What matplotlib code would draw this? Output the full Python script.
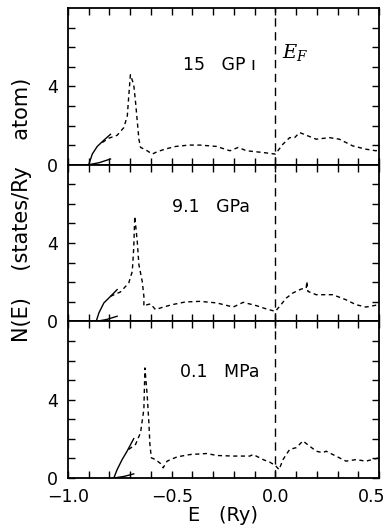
import numpy as np
import matplotlib
matplotlib.use("Agg")
from matplotlib import pyplot as plt
from matplotlib import transforms
from matplotlib.ticker import MultipleLocator, FixedLocator

plt.rcParams["font.family"] = ["DejaVu Sans"]

# panel labels, top to bottom
labels = ["15   GP ı", "9.1   GPa", "0.1   MPa"]
label_pos = [(-0.27, 5.1), (-0.31, 5.85), (-0.27, 5.4)]

# total DOS (dashed)
e_15 = [-0.835, -0.803, -0.763, -0.731, -0.714, -0.707, -0.699, -0.683, -0.674, -0.666,
        -0.658, -0.650, -0.634, -0.618, -0.594, -0.570, -0.530, -0.481, -0.417, -0.363,
        -0.283, -0.219, -0.179, -0.139, -0.059, 0.0, 0.037, 0.069, 0.093, 0.117, 0.157,
        0.197, 0.261, 0.309, 0.373, 0.437, 0.485, 0.5]
n_15 = [1.13, 1.35, 1.50, 1.89, 2.48, 3.50, 4.59, 4.09, 3.17, 2.23,
        1.30, 0.88, 0.80, 0.71, 0.54, 0.66, 0.80, 0.93, 1.00, 1.00,
        0.93, 0.71, 0.88, 0.71, 0.62, 0.54, 1.05, 1.38, 1.38, 1.64, 1.47,
        1.30, 1.38, 1.30, 0.96, 0.79, 0.71, 0.75]

e_91 = [-0.795, -0.747, -0.707, -0.690, -0.683, -0.678, -0.666, -0.658, -0.642, -0.634,
        -0.634, -0.618, -0.602, -0.578, -0.546, -0.498, -0.434, -0.363, -0.283, -0.203,
        -0.155, -0.091, -0.043, 0.0, 0.021, 0.053, 0.085, 0.125, 0.149, 0.152, 0.157,
        0.197, 0.277, 0.341, 0.389, 0.437, 0.5]
n_91 = [1.28, 1.50, 1.96, 2.55, 3.74, 5.36, 4.08, 2.89, 2.04, 1.28,
        0.77, 0.85, 0.89, 0.60, 0.71, 0.85, 0.99, 1.02, 0.94, 0.73,
        0.97, 0.80, 0.63, 0.51, 0.77, 1.19, 1.45, 1.65, 1.70, 2.04, 1.53,
        1.36, 1.36, 1.10, 0.85, 0.73, 0.85]

e_01 = [-0.707, -0.674, -0.650, -0.634, -0.629, -0.618, -0.610, -0.605, -0.598, -0.578,
        -0.554, -0.541, -0.522, -0.474, -0.410, -0.330, -0.283, -0.203, -0.123, -0.107,
        -0.059, -0.027, 0.0, 0.018, 0.037, 0.069, 0.101, 0.133, 0.165, 0.197, 0.229,
        0.245, 0.277, 0.341, 0.389, 0.437, 0.5]
n_01 = [1.46, 1.72, 2.32, 3.52, 5.62, 4.21, 2.84, 1.72, 1.03, 0.94,
        0.74, 0.52, 0.86, 1.08, 1.20, 1.25, 1.15, 1.12, 1.12, 1.20,
        0.94, 0.81, 0.64, 0.43, 0.94, 1.46, 1.55, 1.89, 1.63, 1.37, 1.29,
        1.37, 1.20, 0.86, 0.94, 0.86, 1.03]

# partial DOS near band bottom (solid)
e_up_15 = [-0.900, -0.883, -0.859, -0.827, -0.795]
n_up_15 = [0.0, 0.54, 0.93, 1.25, 1.55]
e_lo_15 = [-0.900, -0.850, -0.795]
n_lo_15 = [0.0, 0.10, 0.29]

e_up_91 = [-0.864, -0.851, -0.827, -0.803, -0.763]
n_up_91 = [0.0, 0.43, 0.94, 1.19, 1.62]
e_lo_91 = [-0.864, -0.815, -0.763]
n_lo_91 = [0.0, 0.09, 0.26]

e_up_01 = [-0.779, -0.763, -0.739, -0.715, -0.683]
n_up_01 = [0.0, 0.43, 0.94, 1.37, 2.01]
e_lo_01 = [-0.779, -0.730, -0.683]
n_lo_01 = [0.0, 0.08, 0.21]

total = [(e_15, n_15), (e_91, n_91), (e_01, n_01)]
upper = [(e_up_15, n_up_15), (e_up_91, n_up_91), (e_up_01, n_up_01)]
lower = [(e_lo_15, n_lo_15), (e_lo_91, n_lo_91), (e_lo_01, n_lo_01)]


def main():
    fig = plt.figure(figsize=(3.91, 5.31), dpi=100)
    left, right = 68 / 391, 379 / 391
    top, bottom = 1 - 8 / 531, 1 - 478 / 531
    h = (top - bottom) / 3

    for i in range(3):
        ax = fig.add_axes([left, top - (i + 1) * h, right - left, h])
        ax.plot(total[i][0], total[i][1], color="black", lw=1.0,
                linestyle=(0, (3.0, 2.5)))
        ax.plot(upper[i][0], upper[i][1], color="black", lw=1.0)
        ax.plot(lower[i][0], lower[i][1], color="black", lw=1.0)
        ax.axvline(0.0, color="black", lw=1.0, linestyle=(0, (6, 4)))
        ax.text(label_pos[i][0], label_pos[i][1], labels[i], fontsize=12.5,
                ha="center", va="center")

        ax.set_xlim(-1.0, 0.5)
        ax.set_ylim(0, 8)
        ax.xaxis.set_major_locator(MultipleLocator(0.5))
        ax.xaxis.set_minor_locator(MultipleLocator(0.1))
        ax.yaxis.set_major_locator(FixedLocator([0, 4]))
        ax.yaxis.set_minor_locator(FixedLocator([1, 2, 3, 5, 6, 7]))
        ax.tick_params(which="both", direction="in", top=True, right=True,
                       length=5, width=1.0, labelsize=12.5)
        ax.tick_params(axis="y", pad=7)
        ax.tick_params(axis="x", pad=7)
        for sp in ax.spines.values():
            sp.set_linewidth(1.3)
        if i < 2:
            ax.tick_params(labelbottom=False)
        else:
            ax.set_xticks([-1.0, -0.5, 0.0, 0.5])
            ax.set_xticklabels(["\u22121.0", "\u22120.5", "0.0", "0.5"])
            ax.set_xlabel("E   (Ry)", fontsize=14, labelpad=0)
            # keep the last label inside the figure
            last = ax.get_xticklabels()[-1]
            shift = transforms.ScaledTranslation(-5 / 72, 0, fig.dpi_scale_trans)
            last.set_transform(last.get_transform() + shift)
        if i == 0:
            ax.text(0.03, 5.75, r"$E_F$", fontsize=14, ha="left", va="center",
                    math_fontfamily="dejavuserif")

    fig.text(22 / 391, 1 - 210 / 531, "N(E)    (states/Ry    atom)", fontsize=15,
             rotation=90, ha="center", va="center")

    fig.savefig("out.png", dpi=100)


if __name__ == "__main__":
    main()
